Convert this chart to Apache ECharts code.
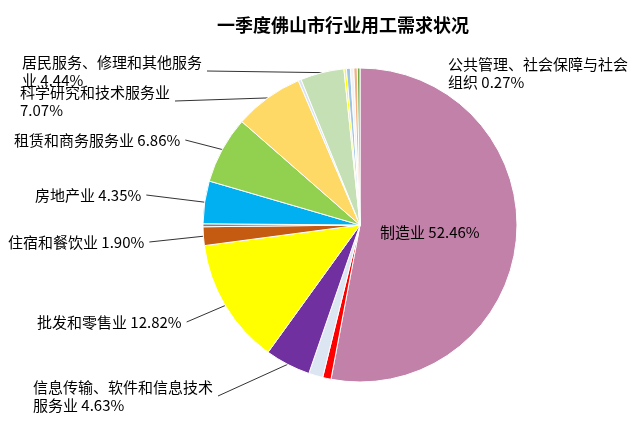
<!DOCTYPE html>
<html>
<head>
<meta charset="utf-8">
<script src="https://cdn.jsdelivr.net/npm/echarts@6/dist/echarts.min.js"></script>
<style>
  html, body { margin: 0; padding: 0; background: #fff; }
  #chart { width: 640px; height: 425px; }
</style>
</head>
<body>
<div id="chart"></div>
<script>
// 行业（顺时针，自12点方向起）
var categories = [
  '制造业',
  '电力、热力、燃气及水生产和供应业',
  '交通运输、仓储和邮政业',
  '信息传输、软件和信息技术服务业',
  '批发和零售业',
  '住宿和餐饮业',
  '金融业',
  '房地产业',
  '租赁和商务服务业',
  '科学研究和技术服务业',
  '水利、环境和公共设施管理业',
  '居民服务、修理和其他服务业',
  '教育',
  '卫生和社会工作',
  '文化、体育和娱乐业',
  '建筑业',
  '公共管理、社会保障与社会组织'
]
// 占比 %
var shares = [52.46, 0.85, 1.45, 4.63, 12.82, 1.90, 0.30, 4.35, 6.86, 7.07, 0.30, 4.44, 0.25, 0.40, 0.35, 0.35, 0.27]
// 显示标签的行业
var labeled = ['制造业', '信息传输、软件和信息技术服务业', '批发和零售业', '住宿和餐饮业', '房地产业',
  '租赁和商务服务业', '科学研究和技术服务业', '居民服务、修理和其他服务业', '公共管理、社会保障与社会组织']

var palette = ['#C181A8', '#FF0000', '#DCE6F2', '#7030A0', '#FFFF00', '#C55A11', '#7F7F7F', '#00B0F0',
  '#92D050', '#FFD966', '#DAE3F3', '#C5E0B4', '#FFFF00', '#9DC3E6', '#F2F2F2', '#F4B183', '#70AD47']

// 标签位置（左x, 中y）
var labelPos = {
  '制造业': [380, 232],
  '信息传输、软件和信息技术服务业': [33, 396],
  '批发和零售业': [37, 322],
  '住宿和餐饮业': [8, 242],
  '房地产业': [35, 195],
  '租赁和商务服务业': [14, 140],
  '科学研究和技术服务业': [20, 101],
  '居民服务、修理和其他服务业': [22, 71],
  '公共管理、社会保障与社会组织': [448, 73]
}
var noLine = ['制造业', '公共管理、社会保障与社会组织']

function labelText (name, val) {
  var v = val.toFixed(2) + '%'
  if (name.length > 12) return name.slice(0, 12) + '\n' + name.slice(12) + ' ' + v
  if (name.length + v.length / 2 > 12) return name + '\n' + v
  return name + ' ' + v
}

var pieData = categories.map(function (c, i) {
  var show = labeled.indexOf(c) >= 0
  return {
    name: c,
    value: shares[i],
    itemStyle: { color: palette[i] },
    label: { show: show },
    labelLine: { show: show && noLine.indexOf(c) < 0 }
  }
})

var myChart = echarts.init(document.getElementById('chart'))
var option = {
  backgroundColor: '#fff',
  animation: false,
  title: {
    text: '一季度佛山市行业用工需求状况',
    left: 212,
    top: 11,
    textStyle: {
      fontFamily: 'Noto Sans CJK SC',
      fontSize: 18,
      fontWeight: 'bold',
      color: '#000'
    }
  },
  series: [
    {
      type: 'pie',
      center: [360, 225],
      radius: 157,
      startAngle: 90,
      clockwise: true,
      avoidLabelOverlap: false,
      minShowLabelAngle: 0,
      data: pieData,
      itemStyle: {
        borderColor: '#fff',
        borderWidth: 1
      },
      label: {
        position: 'outside',
        color: '#000',
        fontFamily: 'Noto Sans CJK SC',
        fontSize: 15,
        lineHeight: 18,
        formatter: function (p) {
          return labelText(p.name, p.value)
        }
      },
      labelLine: {
        length: 10,
        length2: 5,
        lineStyle: { color: '#333', width: 1 }
      },
      labelLayout: function (p) {
        var pos = labelPos[categories[p.dataIndex]]
        if (!pos) return {}
        var out = { x: pos[0], y: pos[1], align: 'left', verticalAlign: 'middle' }
        if (p.labelLinePoints) {
          var edge = p.labelLinePoints[0]
          out.labelLinePoints = [[edge[0], edge[1]], [pos[0] + p.labelRect.width + 5, pos[1]]]
        }
        return out
      }
    }
  ]
}
myChart.setOption(option)
</script>
</body>
</html>
